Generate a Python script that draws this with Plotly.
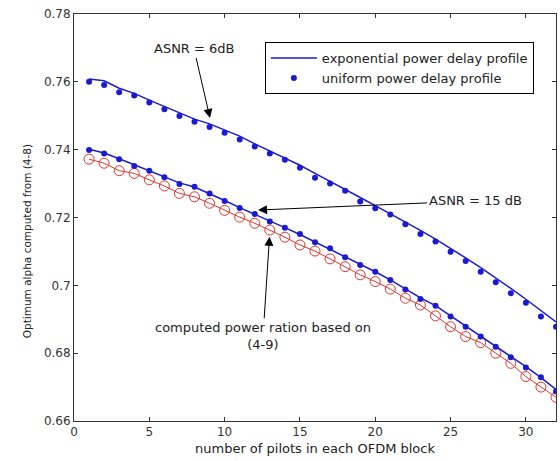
import plotly.graph_objects as go

# number of pilots in each OFDM block
pilots = list(range(1, 33))

# ASNR = 6 dB
exp_6db = [0.7608, 0.7603, 0.7581, 0.7566, 0.7546, 0.7527, 0.7507, 0.7490,
           0.7476, 0.7458, 0.7440, 0.7417, 0.7396, 0.7375, 0.7354, 0.7330,
           0.7307, 0.7284, 0.7259, 0.7235, 0.7211, 0.7187, 0.7162, 0.7136,
           0.7109, 0.7081, 0.7052, 0.7022, 0.6991, 0.6959, 0.6926, 0.6892]
uni_6db = [0.7600, 0.7591, 0.7569, 0.7560, 0.7539, 0.7519, 0.7499, 0.7482,
           0.7467, 0.7450, 0.7430, 0.7409, 0.7389, 0.7370, 0.7347, 0.7317,
           0.7300, 0.7279, 0.7247, 0.7227, 0.7209, 0.7180, 0.7151, 0.7129,
           0.7099, 0.7072, 0.7040, 0.7009, 0.6977, 0.6949, 0.6908, 0.6878]

# ASNR = 15 dB
exp_15db = [0.7401, 0.7390, 0.7373, 0.7355, 0.7338, 0.7320, 0.7302, 0.7290,
            0.7271, 0.7250, 0.7229, 0.7210, 0.7189, 0.7170, 0.7150, 0.7128,
            0.7108, 0.7085, 0.7062, 0.7040, 0.7016, 0.6990, 0.6963, 0.6940,
            0.6910, 0.6880, 0.6851, 0.6821, 0.6790, 0.6760, 0.6728, 0.6693]
uni_15db = [0.7399, 0.7389, 0.7372, 0.7352, 0.7338, 0.7319, 0.7299, 0.7291,
            0.7271, 0.7249, 0.7228, 0.7210, 0.7188, 0.7170, 0.7151, 0.7127,
            0.7109, 0.7083, 0.7060, 0.7040, 0.7016, 0.6988, 0.6960, 0.6940,
            0.6908, 0.6878, 0.6849, 0.6819, 0.6788, 0.6758, 0.6729, 0.6687]

# alpha from the computed power ratio (4-9)
computed_ratio = [0.7372, 0.7360, 0.7338, 0.7330, 0.7311, 0.7293, 0.7271, 0.7261,
                  0.7242, 0.7221, 0.7201, 0.7183, 0.7163, 0.7142, 0.7119, 0.7101,
                  0.7078, 0.7055, 0.7031, 0.7011, 0.6989, 0.6962, 0.6942, 0.6910,
                  0.6878, 0.6849, 0.6831, 0.6800, 0.6770, 0.6731, 0.6700, 0.6670]

x_ticks = [0, 5, 10, 15, 20, 25, 30]
y_ticks = [0.66, 0.68, 0.70, 0.72, 0.74, 0.76, 0.78]

BLUE = "#1a1ad6"
RED = "#e0342c"
FONT = "DejaVu Sans"

fig = go.Figure()

fig.add_trace(go.Scatter(x=pilots, y=computed_ratio, mode="lines+markers",
                         line=dict(color=RED, width=1),
                         marker=dict(symbol="circle-open", size=10,
                                     color=RED, line=dict(width=1)),
                         showlegend=False))
fig.add_trace(go.Scatter(x=pilots, y=exp_15db, mode="lines",
                         line=dict(color=BLUE, width=1.5), showlegend=False))
fig.add_trace(go.Scatter(x=pilots, y=uni_15db, mode="markers",
                         marker=dict(color=BLUE, size=6), showlegend=False))
fig.add_trace(go.Scatter(x=pilots, y=exp_6db, mode="lines",
                         line=dict(color=BLUE, width=1.5),
                         name="exponential power delay profile"))
fig.add_trace(go.Scatter(x=pilots, y=uni_6db, mode="markers",
                         marker=dict(color=BLUE, size=6),
                         name="uniform power delay profile"))

arrow = dict(showarrow=True, arrowhead=2, arrowsize=1.8, arrowwidth=1,
             arrowcolor="black", axref="x", ayref="y",
             font=dict(family=FONT, size=13, color="#222"))
fig.add_annotation(x=9.03, y=0.7493, ax=7.97, ay=0.7697,
                   text="ASNR = 6dB", **arrow)
fig.add_annotation(x=12.22, y=0.7222, ax=26.63, ay=0.7249,
                   text="ASNR = 15 dB", **arrow)
fig.add_annotation(x=12.98, y=0.7143, ax=12.55, ay=0.6851,
                   text="computed power ration based on<br>(4-9)", **arrow)

# y-axis caption, placed a little below the plot centre
fig.add_annotation(xref="paper", yref="paper", x=-0.097, y=0.4423,
                   text="Optimum alpha computed from (4-8)", textangle=-90,
                   showarrow=False, xanchor="center", yanchor="middle",
                   font=dict(family=FONT, size=10.5, color="#222"))

axis_common = dict(showline=True, linecolor="#333", linewidth=1, mirror="ticks",
                   ticks="inside", ticklen=4, tickcolor="#333",
                   showgrid=False, zeroline=False,
                   tickfont=dict(family=FONT, size=12, color="#333"))

fig.update_xaxes(range=[0, 32], tickvals=x_ticks,
                 title=dict(text="number of pilots in each OFDM block",
                            font=dict(family=FONT, size=13, color="#222"),
                            standoff=5),
                 **axis_common)
fig.update_yaxes(range=[0.66, 0.78], tickvals=y_ticks, **axis_common)

fig.update_layout(
    width=560, height=461,
    margin=dict(l=74, r=4, t=14, b=40),
    paper_bgcolor="white", plot_bgcolor="white",
    legend=dict(x=0.396, y=0.931, xanchor="left", yanchor="top",
                bgcolor="white", bordercolor="black", borderwidth=1,
                itemwidth=46,
                font=dict(family=FONT, size=13, color="#222")),
)

fig.write_html("out.html")
